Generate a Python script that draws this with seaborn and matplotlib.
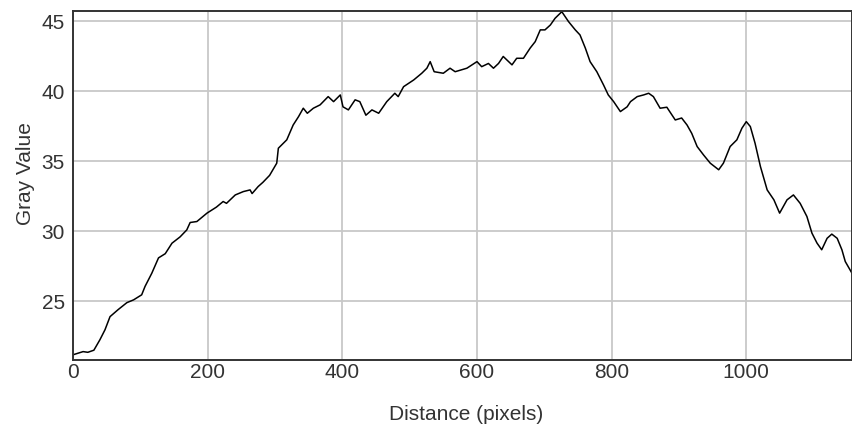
import matplotlib
matplotlib.use("Agg")
import matplotlib.pyplot as plt
import seaborn as sns
import pandas as pd

distance = [0, 0.5, 15, 22, 31, 40, 47.5, 55, 67, 80, 90, 102, 107, 117, 127, 137, 147, 159, 169, 174,
            184, 199, 213, 223, 228, 241, 253, 263, 266, 275, 282, 292, 302.6, 305, 317.5, 327, 335, 342, 348,
            357, 367, 379, 387, 397, 401, 409, 419, 426, 435, 444, 454, 466, 478, 483, 491, 506, 518,
            525.6, 530.5, 536.4, 550, 560, 567.6, 585, 600, 607, 617, 624.5, 632, 639, 652, 659, 669,
            679, 686.5, 694, 701, 709, 716, 726, 736, 746, 753, 761, 768, 778, 788, 795, 803, 813, 823,
            828, 838, 847.5, 855, 862, 872, 882, 894.5, 904, 912, 919, 927, 936.5, 946.5, 959, 966, 976,
            986, 993.5, 1000, 1006, 1013, 1021, 1031, 1041, 1049.5, 1060.5, 1070, 1080, 1090, 1097.5,
            1105, 1112, 1120, 1127, 1135, 1142, 1147, 1157]
gray_value = [21.0, 21.18, 21.4, 21.35, 21.5, 22.25, 22.96, 23.9, 24.4, 24.9, 25.1, 25.46, 26.06, 27.0, 28.1,
              28.4, 29.15, 29.6, 30.1, 30.63, 30.7, 31.3, 31.73, 32.13, 32.0, 32.6, 32.84, 32.96, 32.7, 33.2,
              33.5, 34.0, 34.87, 35.94, 36.54, 37.6, 38.2, 38.8, 38.44, 38.8, 39.04, 39.63, 39.27, 39.75,
              38.9, 38.68, 39.4, 39.27, 38.3, 38.68, 38.44, 39.27, 39.87, 39.63, 40.34, 40.82, 41.3, 41.66,
              42.13, 41.41, 41.3, 41.66, 41.41, 41.66, 42.13, 41.77, 42.0, 41.66, 42.0, 42.5, 41.9, 42.37,
              42.37, 43.1, 43.56, 44.4, 44.4, 44.75, 45.23, 45.7, 44.99, 44.4, 44.04, 43.09, 42.13, 41.41,
              40.46, 39.75, 39.27, 38.56, 38.9, 39.27, 39.63, 39.75, 39.87, 39.63, 38.8, 38.87, 37.96, 38.1,
              37.6, 37.0, 36.06, 35.46, 34.87, 34.4, 34.87, 36.06, 36.54, 37.37, 37.84, 37.49, 36.3, 34.63,
              32.96, 32.25, 31.3, 32.25, 32.6, 32.0, 31.06, 29.87, 29.16, 28.68, 29.5, 29.8, 29.5, 28.68,
              27.84, 27.0]

x_ticks = [0, 200, 400, 600, 800, 1000]
y_ticks = [25, 30, 35, 40, 45]

df = pd.DataFrame({"Distance (pixels)": distance, "Gray Value": gray_value})

sns.set_theme(style="white")
plt.rcParams["font.family"] = ["Liberation Sans", "DejaVu Sans"]

fig = plt.figure(figsize=(8.52, 4.30), dpi=100)
ax = fig.add_axes([73 / 852, 1 - 360 / 430, (852 - 73) / 852, (360 - 11) / 430])

sns.lineplot(data=df, x="Distance (pixels)", y="Gray Value", ax=ax, color="black",
             linewidth=1.1, estimator=None, sort=False)

ax.set_xlim(0, 1157)
ax.set_ylim(20.8, 45.75)
ax.set_xticks(x_ticks)
ax.set_yticks(y_ticks)
ax.grid(True, color="#c8c8c8", linewidth=1.3)
ax.set_axisbelow(True)
ax.tick_params(axis="x", length=0, labelsize=15, labelcolor="#333333", pad=2)
ax.tick_params(axis="y", length=0, labelsize=15, labelcolor="#333333", pad=6)
for s in ax.spines.values():
    s.set_color("#333333")
    s.set_linewidth(1.4)
ax.set_xlabel("Distance (pixels)", fontsize=15, color="#333333")
ax.set_ylabel("Gray Value", fontsize=15, color="#333333")
ax.xaxis.set_label_coords(0.5045, -0.128)
ax.yaxis.set_label_coords(-0.049, 0.533)

fig.savefig("out.png", dpi=100, facecolor="white")
